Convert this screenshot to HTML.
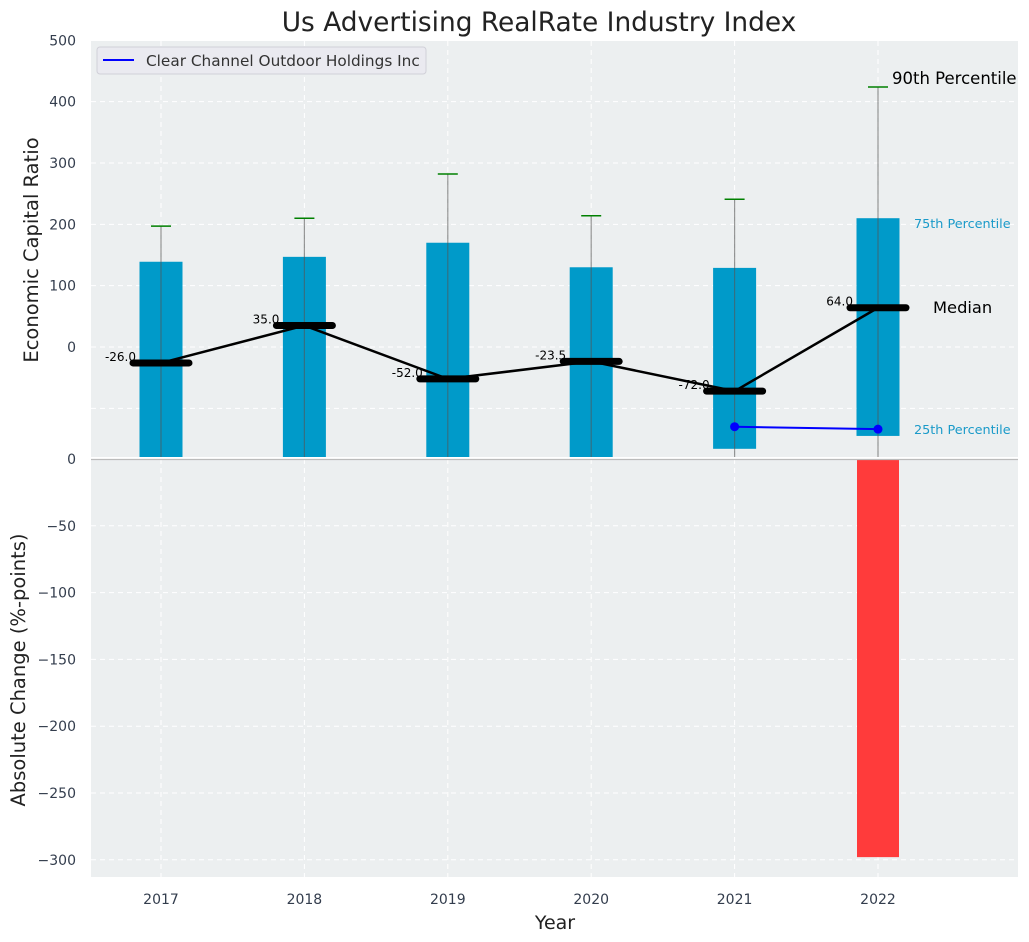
<!DOCTYPE html>
<html><head><meta charset="utf-8"><style>
html,body{margin:0;padding:0;background:#fff;}
svg{display:block;font-family:"DejaVu Sans","Liberation Sans",sans-serif;}
</style></head><body>
<svg id="chart" width="1029" height="942" viewBox="0 0 1029 942" xmlns="http://www.w3.org/2000/svg">
<text x="539" y="31" font-size="26.4" text-anchor="middle" fill="#222">Us Advertising RealRate Industry Index</text>
<rect x="91" y="41" width="927" height="416" fill="#eceff0"/>
<rect x="91" y="459" width="927" height="418" fill="#eceff0"/>
<g id="grid"></g>
<g id="marks"></g>
<g id="axes"></g>
<text x="38" y="250" font-size="19.5" fill="#222" text-anchor="middle" transform="rotate(-90 38 250)">Economic Capital Ratio</text>
<text x="25" y="670" font-size="19.5" fill="#222" text-anchor="middle" transform="rotate(-90 25 670)">Absolute Change (%-points)</text>
<text x="555" y="929" font-size="19" fill="#222" text-anchor="middle">Year</text>
<g>
<rect x="97" y="47" width="329" height="27" rx="3" fill="#eaeaf0" stroke="#d0d0d8"/>
<line x1="103" y1="60" x2="134" y2="60" stroke="#0000ff" stroke-width="2"/>
<text x="146" y="66" font-size="15.3" fill="#333">Clear Channel Outdoor Holdings Inc</text>
</g>
<text x="892" y="84" font-size="16.5" fill="#000">90th Percentile</text>
<text x="914" y="228" font-size="12.8" fill="#1a9ac9">75th Percentile</text>
<text x="933" y="313" font-size="16.3" fill="#000">Median</text>
<text x="914" y="434" font-size="12.8" fill="#1a9ac9">25th Percentile</text>
</svg>
<script>
const years = [2017, 2018, 2019, 2020, 2021, 2022];
const p75 = [139, 147, 170, 130, 129, 210];
const p25 = [-180, -180, -180, -180, -166, -145];
const p90 = [197, 210, 282, 214, 241, 424];
const medians = [-26.0, 35.0, -52.0, -23.5, -72.0, 64.0];
const companyYears = [2021, 2022];
const companyValues = [-130, -134];
const changeYears = [2022];
const changeValues = [-298];
const topTicks = [0, 100, 200, 300, 400, 500];
const bottomTicks = [0, -50, -100, -150, -200, -250, -300];

const NS = "http://www.w3.org/2000/svg";
const xs = y => 161 + (y - 2017) * 143.4;
const yTop = v => 347 - v * 0.6133;
const yBot = v => 459 - v * 1.336;
const TOPBOT = 457;
function mk(tag, attrs, parent, text) {
  const e = document.createElementNS(NS, tag);
  for (const k in attrs) e.setAttribute(k, attrs[k]);
  if (text !== undefined) e.textContent = text;
  parent.appendChild(e);
  return e;
}
const grid = document.getElementById('grid');
const marks = document.getElementById('marks');
const axes = document.getElementById('axes');

[-100, 0, 100, 200, 300, 400].forEach(v => {
  const l = mk('line', {x1: 91, x2: 1018, y1: yTop(v), y2: yTop(v), stroke: '#fff', 'stroke-dasharray': '5,4', 'stroke-width': 1}, grid);
  
  
});
bottomTicks.forEach(v => {
  if (v === 0) return;
  const l = mk('line', {x1: 91, x2: 1018, y1: yBot(v), y2: yBot(v), stroke: '#fff', 'stroke-dasharray': '5,4', 'stroke-width': 1}, grid);
  
  
});
years.forEach(y => {
  [[41, 457], [459, 877]].forEach(r => {
    const l = mk('line', {x1: xs(y), x2: xs(y), y1: r[0], y2: r[1], stroke: '#fff', 'stroke-dasharray': '5,4', 'stroke-width': 1}, grid);
    
    
  });
});

years.forEach((y, i) => {
  const t = yTop(p75[i]), b = Math.min(yTop(p25[i]), TOPBOT);
  const r = mk('rect', {x: xs(y) - 21.5, y: t, width: 43, height: b - t, fill: '#009ac9'}, marks);
  
  
});
years.forEach((y, i) => {
  const l = mk('line', {x1: xs(y), x2: xs(y), y1: yTop(p90[i]), y2: TOPBOT, stroke: '#555', 'stroke-opacity': 0.6, 'stroke-width': 1.2}, marks);
  
  
  const c = mk('line', {x1: xs(y) - 10, x2: xs(y) + 10, y1: yTop(p90[i]), y2: yTop(p90[i]), stroke: 'green', 'stroke-width': 1.5}, marks);
  
  
});
const mp = mk('polyline', {points: years.map((y, i) => xs(y) + ',' + yTop(medians[i])).join(' '), fill: 'none', stroke: '#000', 'stroke-width': 2.5}, marks);


years.forEach((y, i) => {
  const l = mk('line', {x1: xs(y) - 28, x2: xs(y) + 28, y1: yTop(medians[i]), y2: yTop(medians[i]), stroke: '#000', 'stroke-width': 7, 'stroke-linecap': 'round'}, marks);
  
  
  const t = mk('text', {x: xs(y) - 25, y: yTop(medians[i]) - 2, 'font-size': 12, 'text-anchor': 'end', fill: '#000'}, marks, medians[i].toFixed(1));
  
  
});
const cl = mk('polyline', {points: companyYears.map((y, i) => xs(y) + ',' + yTop(companyValues[i])).join(' '), fill: 'none', stroke: '#0000ff', 'stroke-width': 2}, marks);


companyYears.forEach((y, i) => {
  const c = mk('circle', {cx: xs(y), cy: yTop(companyValues[i]), r: 4.5, fill: '#0000ff'}, marks);
  
  
});
changeYears.forEach((y, i) => {
  const r = mk('rect', {x: xs(y) - 21, y: yBot(0), width: 42, height: yBot(changeValues[i]) - yBot(0), fill: '#ff3b3b'}, marks);
  
  
});
const zl = mk('line', {x1: 91, x2: 1018, y1: 459.5, y2: 459.5, stroke: '#bbb', 'stroke-width': 1.2}, marks);



topTicks.forEach(v => {
  const t = mk('text', {x: 76, y: yTop(v) + 5, 'font-size': 14, 'text-anchor': 'end', fill: '#333d4d'}, axes, String(v));
  
  
});
bottomTicks.forEach(v => {
  const t = mk('text', {x: 76, y: yBot(v) + 5, 'font-size': 14, 'text-anchor': 'end', fill: '#333d4d'}, axes, v === 0 ? '0' : '\u2212' + Math.abs(v));
  
  
});
years.forEach(y => {
  const t = mk('text', {x: xs(y), y: 904, 'font-size': 14, 'text-anchor': 'middle', fill: '#333d4d'}, axes, String(y));
  
  
});
</script>
</body></html>
